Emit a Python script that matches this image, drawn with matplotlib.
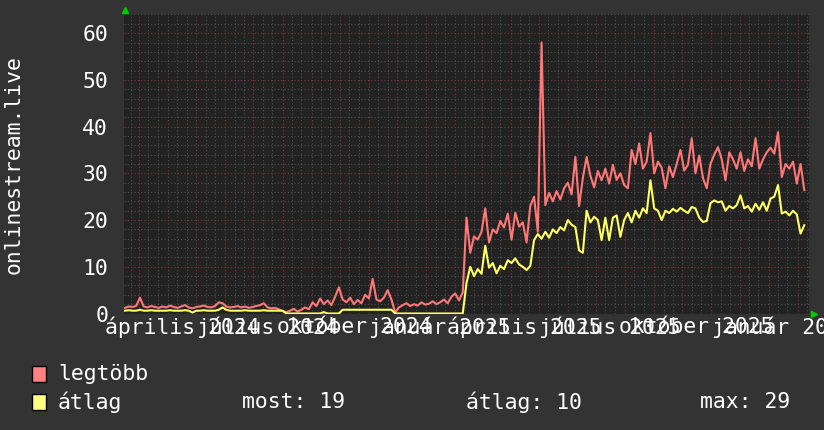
import pandas as pd
import matplotlib
matplotlib.use('Agg')
import matplotlib.pyplot as plt
import matplotlib.dates as mdates
from matplotlib.patches import Rectangle

plt.rcParams['font.family'] = 'DejaVu Sans Mono'

# one sample every 4 days
dates = pd.date_range('2024-02-15', periods=182, freq='4D')

legtobb = [
    1.2, 1.5, 1.4, 1.6, 3.4, 1.5, 1.3, 1.6, 1.4, 1.2,
    1.5, 1.3, 1.7, 1.4, 1.2, 1.5, 1.8, 1.3, 1.1, 1.4,
    1.5, 1.7, 1.4, 1.3, 1.6, 2.4, 2.2, 1.5, 1.3, 1.4,
    1.6, 1.3, 1.5, 1.2, 1.4, 1.6, 1.8, 2.2, 1.3, 1.1,
    1.2, 0.9, 0.5, 0.3, 0.6, 1.0, 0.4, 0.8, 1.3, 0.9,
    2.4, 1.6, 3.2, 2.0, 2.8, 1.8, 3.6, 5.6, 3.0, 2.4,
    3.4, 2.0, 2.9, 2.2, 4.0, 3.2, 7.4, 3.0, 2.6, 3.4,
    5.0, 3.0, 0.2, 1.3, 1.8, 2.2, 1.6, 2.0, 1.7, 2.4,
    1.9, 2.1, 2.6, 2.0, 2.4, 3.0, 2.2, 3.6, 4.3, 2.8,
    4.5, 20.5, 13.0, 16.5, 15.8, 17.5, 22.5, 15.2, 18.0, 17.2,
    19.8, 18.4, 21.4, 15.8, 21.6, 18.6, 19.5, 15.2, 23.0, 25.0,
    17.5, 58.0, 23.2, 25.8, 24.0, 26.2, 24.4, 26.8, 28.0, 25.5,
    33.5, 23.0, 29.0, 33.5, 29.5, 27.0, 30.5, 28.5, 31.0, 27.8,
    31.8, 28.6, 30.0, 27.5, 26.8, 35.0, 32.0, 36.4, 31.0, 32.5,
    38.6, 30.0, 32.5, 31.2, 26.8, 31.5, 29.2, 32.0, 35.0, 30.6,
    31.8, 37.5, 30.0, 33.8, 29.0, 26.8, 32.0, 34.0, 35.6, 33.0,
    28.5, 34.5, 33.0, 31.0, 34.5, 30.5, 33.0, 31.5, 37.5, 31.0,
    33.0, 34.5, 35.5, 34.2, 38.8, 29.2, 32.0, 31.0, 32.5, 27.8,
    32.0, 26.4,
]

atlag = [
    0.6, 0.7, 0.6, 0.6, 0.8, 0.6, 0.6, 0.7, 0.6, 0.6,
    0.6, 0.6, 0.7, 0.6, 0.6, 0.6, 0.7, 0.6, 0.2, 0.6,
    0.6, 0.7, 0.6, 0.6, 0.6, 0.8, 1.3, 0.8, 0.6, 0.6,
    0.6, 0.6, 0.7, 0.6, 0.6, 0.6, 0.6, 0.7, 0.6, 0.6,
    0.6, 0.6, 0.6, 0.0, 0.0, 0.0, 0.0, 0.0, 0.0, 0.0,
    0.0, 0.0, 0.0, 0.3, 0.0, 0.0, 0.0, 0.0, 0.8, 0.8,
    0.8, 0.8, 0.8, 0.8, 0.8, 0.8, 0.8, 0.8, 0.8, 0.8,
    0.8, 0.8, 0.0, 0.0, 0.0, 0.0, 0.0, 0.0, 0.0, 0.0,
    0.0, 0.0, 0.0, 0.0, 0.0, 0.0, 0.0, 0.0, 0.0, 0.0,
    0.0, 6.5, 10.0, 8.0, 9.5, 8.5, 14.5, 9.8, 10.8, 8.6,
    10.2, 9.5, 11.4, 10.8, 11.8, 10.5, 10.0, 9.3, 10.2, 15.7,
    17.0, 16.0, 17.5, 16.2, 18.0, 17.2, 18.5, 17.8, 20.0, 19.0,
    18.5, 13.5, 13.0, 22.0, 19.5, 20.7, 20.0, 15.7, 20.5, 15.7,
    20.5, 21.0, 16.4, 20.0, 21.5, 19.5, 22.0, 20.5, 22.5, 21.5,
    28.5, 22.5, 22.0, 20.0, 22.0, 21.5, 22.4, 21.8, 22.6, 22.0,
    21.5, 22.8, 22.5, 20.5, 19.6, 19.8, 23.6, 24.2, 23.8, 24.0,
    22.0, 23.0, 22.5, 23.2, 25.3, 22.5, 23.0, 21.8, 23.5, 22.2,
    23.8, 22.0, 24.6, 25.0, 27.5, 21.4, 21.8, 21.0, 22.0, 21.2,
    17.1, 18.9,
]

x_labels = ['április 2024', 'július 2024', 'október 2024', 'január 2025',
            'április 2025', 'július 2025', 'október 2025', 'január 2026']
x_label_dates = pd.to_datetime(['2024-04-16', '2024-07-16', '2024-10-16', '2025-01-16',
                                '2025-04-16', '2025-07-16', '2025-10-16', '2026-01-16'])
y_ticks = [0, 10, 20, 30, 40, 50, 60]

series_names = ['legtöbb', 'átlag']
series_colors = ['#ff7878', '#ffff66']
box_colors = ['#ff8080', '#ffff80']
stats_text = ['most: 19', 'átlag: 10', 'max: 29']

W, H = 824, 430
fs = 15.4
fig = plt.figure(figsize=(W / 100, H / 100), dpi=100, facecolor='#333333')
ax = fig.add_axes([124 / W, 1 - 313.5 / H, 685 / W, 299.5 / H])
ax.set_facecolor('#222222')

ax.set_xlim(pd.Timestamp('2024-02-14'), pd.Timestamp('2026-02-13'))
ax.set_ylim(0, 64.1)

# grid like rrdtool: dotted gray minor, dotted red major
ax.xaxis.set_major_locator(mdates.MonthLocator())
ax.xaxis.set_minor_locator(mdates.DayLocator(bymonthday=[11, 21]))
ax.set_yticks(y_ticks)
ax.set_yticks(range(0, 65, 2), minor=True)
ax.grid(which='minor', color='#505050', linestyle=(0, (1, 2)), linewidth=0.8)
ax.grid(which='major', color='#803838', linestyle=(0, (1, 2)), linewidth=0.8)
ax.set_axisbelow(True)

ax.set_xticklabels([])
ax.set_yticklabels([str(v) for v in y_ticks], color='white', fontsize=fs)
ax.tick_params(which='both', length=0)
ax.tick_params(axis='y', pad=11.5)
for s in ax.spines.values():
    s.set_visible(False)

ax.plot(dates, legtobb, color=series_colors[0], linewidth=1.5)
ax.plot(dates, atlag, color=series_colors[1], linewidth=1.5)

for d, lab in zip(x_label_dates, x_labels):
    ax.text(d, -0.045, lab, transform=ax.get_xaxis_transform(), ha='center', va='center',
            color='white', fontsize=fs, clip_on=False)

# arrows at the axis ends
ax.plot([0.0015], [1.012], marker='^', color='#00cc00', markersize=5,
        transform=ax.transAxes, clip_on=False)
ax.plot([1.0073], [0.0], marker='>', color='#00cc00', markersize=5,
        transform=ax.transAxes, clip_on=False)

fig.text(14 / W, 1 - 165 / H, 'onlinestream.live', rotation=90, ha='center', va='center',
         color='white', fontsize=fs)

# legend
for k, (name, c) in enumerate(zip(series_names, box_colors)):
    yc = 374 + 28 * k
    fig.patches.append(Rectangle((32 / W, 1 - (yc + 8) / H), 14 / W, 16 / H,
                                 facecolor=c, edgecolor='black', linewidth=1,
                                 transform=fig.transFigure))
    fig.text(58 / W, 1 - yc / H, name, ha='left', va='center', color='white', fontsize=fs)

for xp, t in zip([242, 466, 700], stats_text):
    fig.text(xp / W, 1 - 402 / H, t, ha='left', va='center', color='white', fontsize=fs)

fig.savefig('out.png', dpi=100, facecolor=fig.get_facecolor())
